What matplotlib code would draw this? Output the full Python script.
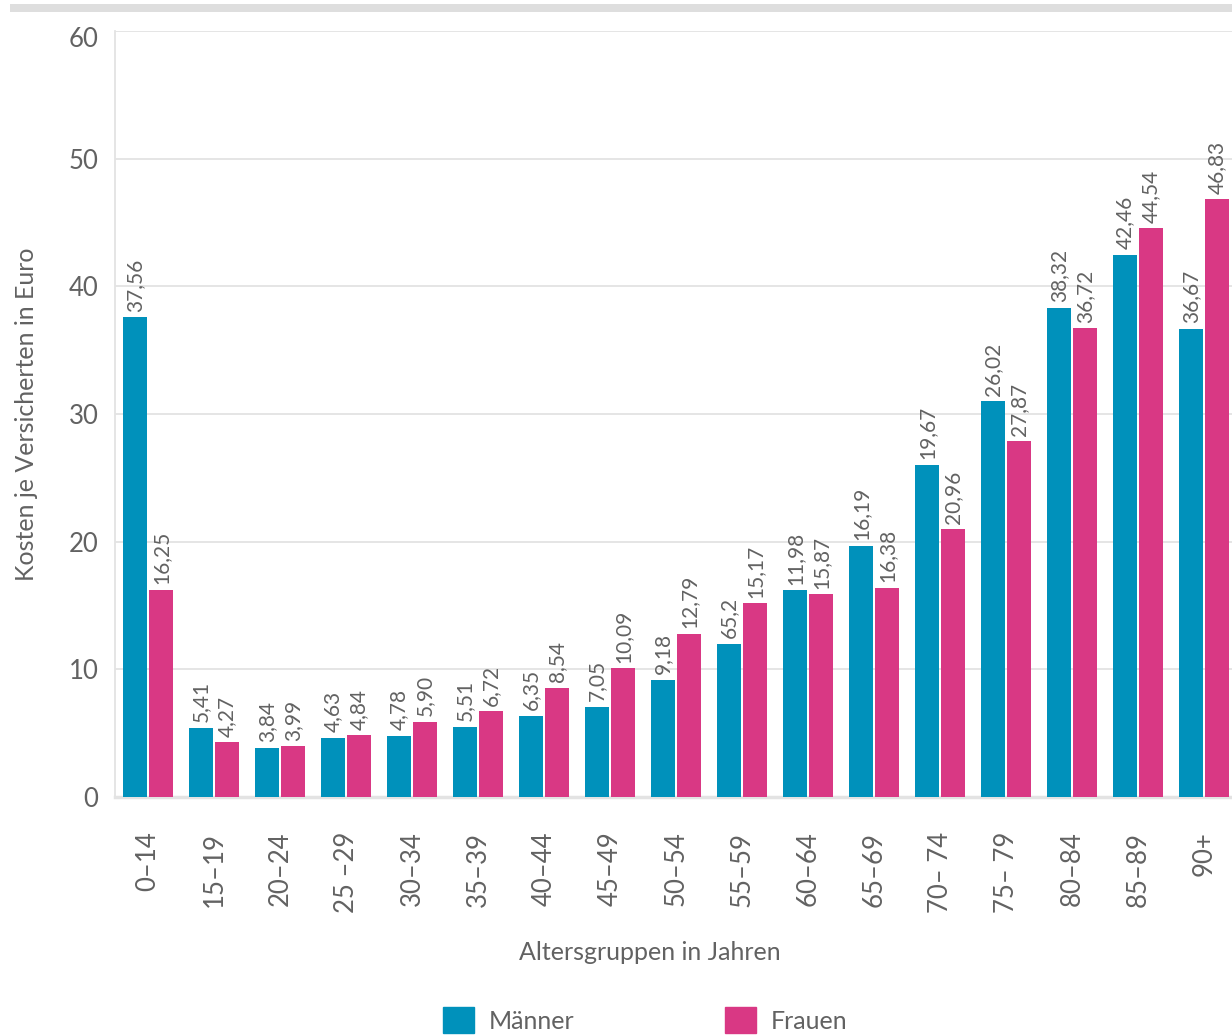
import numpy as np
import matplotlib
matplotlib.use("Agg")
import matplotlib.pyplot as plt
import matplotlib.transforms as mtransforms
from matplotlib.patches import Patch

plt.rcParams['font.family'] = ['Lato', 'DejaVu Sans']

# Kosten je Versicherten nach Altersgruppe
age_groups = ['0–14', '15–19', '20–24', '25 –29', '30–34', '35–39', '40–44',
              '45–49', '50–54', '55–59', '60–64', '65–69', '70– 74', '75– 79',
              '80–84', '85–89', '90+']
men = [37.56, 5.41, 3.84, 4.63, 4.78, 5.51, 6.35, 7.05, 9.18, 11.98,
       16.19, 19.67, 26.02, 31.0, 38.32, 42.46, 36.67]
men_labels = ['37,56', '5,41', '3,84', '4,63', '4,78', '5,51', '6,35', '7,05',
              '9,18', '65,2', '11,98', '16,19', '19,67', '26,02', '38,32',
              '42,46', '36,67']
women = [16.25, 4.27, 3.99, 4.84, 5.90, 6.72, 8.54, 10.09, 12.79, 15.17,
         15.87, 16.38, 20.96, 27.87, 36.72, 44.54, 46.83]
women_labels = [f'{v:.2f}'.replace('.', ',') for v in women]

blue = '#0091bb'
pink = '#d93884'
text_col = '#626262'
grid_col = '#e3e3e3'

fig = plt.figure(figsize=(12.32, 10.35), dpi=100)
ax = fig.add_axes([115 / 1232, 1 - 797 / 1035, 1122 / 1232, 766 / 1035])

# grey band across the top
fig.add_artist(plt.Rectangle((10 / 1232, 1 - 11.5 / 1035), 1.0, 8 / 1035,
                             transform=fig.transFigure, color='#dedede', lw=0))

x = np.arange(len(age_groups))
w = 0.364
off = 13 / 66
ax.bar(x - off, men, width=w, color=blue, zorder=3)
ax.bar(x + off, women, width=w, color=pink, zorder=3)

for xi, v, s in zip(x, men, men_labels):
    ax.annotate(s, (xi - off, v), xytext=(0, 4), textcoords='offset points',
                rotation=90, ha='center', va='bottom', fontsize=15, color=text_col)
for xi, v, s in zip(x, women, women_labels):
    ax.annotate(s, (xi + off, v), xytext=(0, 4), textcoords='offset points',
                rotation=90, ha='center', va='bottom', fontsize=15, color=text_col)

ax.set_xlim(-0.5, len(age_groups) - 0.5)
ax.set_ylim(0, 60)
ax.set_yticks(range(0, 61, 10))
ax.set_xticks(x)
ax.set_xticklabels(age_groups, rotation=90)
ax.yaxis.grid(True, color=grid_col, lw=1.3, zorder=0)
ax.set_axisbelow(True)
ax.tick_params(axis='both', length=0, labelsize=18.5, labelcolor=text_col)
ax.tick_params(axis='x', pad=25)
ax.tick_params(axis='y', pad=12)

# nudge the top tick label down a little
top_lbl = ax.get_yticklabels()[-1]
top_lbl.set_transform(top_lbl.get_transform() +
                      mtransforms.ScaledTranslation(0, -6 / 100, fig.dpi_scale_trans))

for side in ['top', 'right']:
    ax.spines[side].set_visible(False)
ax.spines['left'].set_color(grid_col)
ax.spines['left'].set_linewidth(1.3)
ax.spines['bottom'].set_color(grid_col)
ax.spines['bottom'].set_linewidth(2.5)

ax.set_ylabel('Kosten je Versicherten in Euro', fontsize=18, color=text_col)
ax.yaxis.set_label_coords(-0.069, 0.5)
fig.text(650 / 1232, 1 - 952 / 1035, 'Altersgruppen in Jahren', fontsize=18,
         color=text_col, ha='center', va='center')

handles = [Patch(color=blue, label='Männer'), Patch(color=pink, label='Frauen')]
fig.legend(handles=handles, loc='upper left', ncol=2, frameon=False,
           bbox_to_anchor=(443 / 1232, 1 - 1007 / 1035), fontsize=18,
           labelcolor=text_col, handlelength=1.25, handleheight=1.25,
           handletextpad=0.6, columnspacing=6.0, borderpad=0, borderaxespad=0)

fig.savefig('out.png', dpi=100)
